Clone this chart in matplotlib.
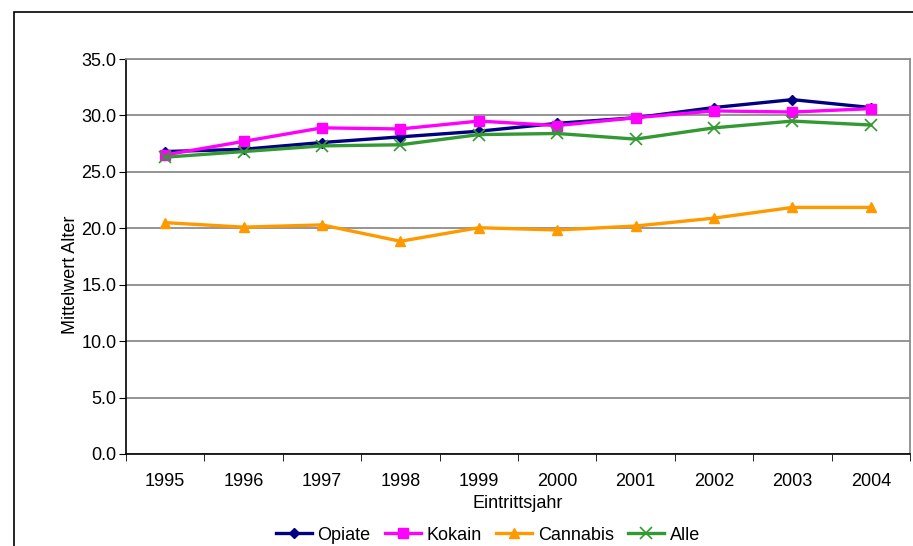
import matplotlib.pyplot as plt
from matplotlib.patches import Rectangle

plt.rcParams['font.family'] = ['Liberation Sans', 'DejaVu Sans']

years = ['1995', '1996', '1997', '1998', '1999', '2000', '2001', '2002', '2003', '2004']
opiate = [26.8, 27.0, 27.6, 28.1, 28.6, 29.3, 29.8, 30.7, 31.4, 30.7]
kokain = [26.5, 27.7, 28.9, 28.8, 29.5, 29.1, 29.8, 30.4, 30.3, 30.6]
cannabis = [20.5, 20.1, 20.3, 18.85, 20.05, 19.85, 20.2, 20.9, 21.85, 21.85]
alle = [26.3, 26.8, 27.3, 27.4, 28.3, 28.4, 27.9, 28.9, 29.5, 29.15]

fig = plt.figure(figsize=(9.13, 5.46), dpi=100)
ax = fig.add_axes([126/913, 1-454/546, (910-126)/913, (454-59)/546])

x = list(range(len(years)))
ax.plot(x, opiate, color='#000080', lw=2.4, marker='D', ms=5, label='Opiate')
ax.plot(x, kokain, color='#FF00FF', lw=2.4, marker='s', ms=6.5, label='Kokain')
ax.plot(x, cannabis, color='#FF9900', lw=2.4, marker='^', ms=7, label='Cannabis')
ax.plot(x, alle, color='#339933', lw=2.4, marker='x', ms=9, mew=1.2, label='Alle')

ax.set_xlim(-0.5, 9.5)
ax.set_ylim(0, 35)
ax.set_yticks([i * 5 for i in range(8)])
ax.set_yticklabels(['%.1f' % (i * 5) for i in range(8)], fontsize=13)
ax.set_xticks(x)
ax.set_xticklabels(years, fontsize=13)
ax.set_xticks([i - 0.5 for i in range(11)], minor=True)
ax.tick_params(axis='x', which='major', length=0, pad=14)
ax.tick_params(axis='x', which='minor', length=5, direction='out', color='black')
ax.tick_params(axis='y', length=5, direction='out', pad=2)
ax.yaxis.grid(True, color='#8c8c8c', lw=1.3)
ax.set_axisbelow(True)
for s in ['left', 'bottom']:
    ax.spines[s].set_color('black')
    ax.spines[s].set_linewidth(1.2)
for s in ['top', 'right']:
    ax.spines[s].set_color('#8c8c8c')
    ax.spines[s].set_linewidth(1.3)

ax.set_ylabel('Mittelwert Alter', fontsize=13)
ax.yaxis.set_label_coords(-0.06, 0.453)
ax.set_xlabel('Eintrittsjahr', fontsize=13, labelpad=3)

fig.legend(loc='center', bbox_to_anchor=(488/913, 1 - 535/546), ncol=4, frameon=False,
           fontsize=13, handlelength=2.0, handletextpad=0.3, columnspacing=0.8,
           borderpad=0)

fig.patches.append(Rectangle((14/913, -0.1), 1.0, 1.1 - 12/546, transform=fig.transFigure,
                             fill=False, edgecolor='black', lw=1.2))

fig.savefig('out.png', dpi=100)
